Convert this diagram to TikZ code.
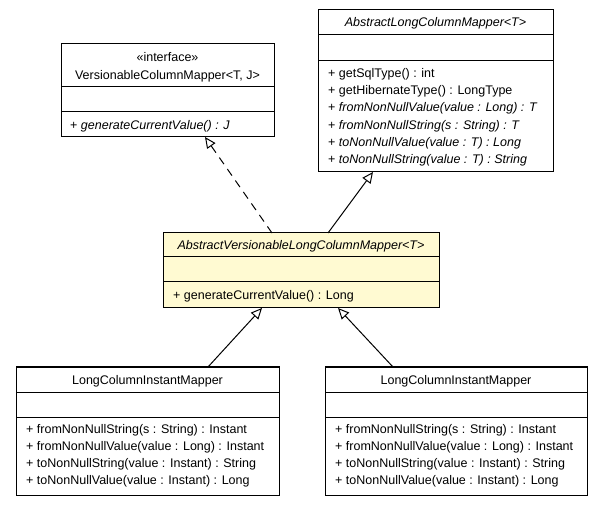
\documentclass[tikz,border=0pt]{standalone}
\usepackage{fontspec}
\setmainfont{Liberation Sans}
\usetikzlibrary{arrows.meta}
\definecolor{abfill}{RGB}{255,250,210}
\begin{document}
\begin{tikzpicture}[x=1pt,y=-1pt,
  box/.style={draw=black, line width=1pt, inner sep=0pt, outer sep=0pt, anchor=north west, fill=white},
  txt/.style={inner sep=0pt, anchor=base west, font=\fontsize{12.5}{15}\selectfont},
  ctxt/.style={inner sep=0pt, anchor=base, font=\fontsize{12.5}{15}\selectfont},
  sep/.style={line width=1pt},
  gen/.style={line width=1pt, -{Triangle[open,length=11pt,width=10pt,fill=white]}},
  impl/.style={gen, dash pattern=on 8pt off 6pt}]
\useasboundingbox (0,0) rectangle (603,505);

% VersionableColumnMapper
\node[box, minimum width=213pt, minimum height=93pt] (v) at (61,44) {};
\draw[sep] (61,87) -- (274,87);
\draw[sep] (61,112) -- (274,112);
\node[ctxt] (vs) at (167.5,61.5) {«interface»};
\node[ctxt] (vt) at (167.5,79.5) {VersionableColumnMapper<T, J>};
\node[txt] (vm1) at (70,129.5) {+ \textit{generateCurrentValue() : J}};

% AbstractLongColumnMapper
\node[box, minimum width=235pt, minimum height=162pt] (al) at (318,10) {};
\draw[sep] (318,35) -- (553,35);
\draw[sep] (318,61) -- (553,61);
\node[ctxt] (alt) at (435.5,26.5) {\textit{AbstractLongColumnMapper<T>}};
\node[txt] (alm1) at (328,77.5) {+ getSqlType() : int};
\node[txt] (alm2) at (328,94.7) {+ getHibernateType() : LongType};
\node[txt] (alm3) at (328,111.9) {+ \textit{fromNonNullValue(value : Long) : T}};
\node[txt] (alm4) at (328,129.1) {+ \textit{fromNonNullString(s : String) : T}};
\node[txt] (alm5) at (328,146.3) {+ \textit{toNonNullValue(value : T) : Long}};
\node[txt] (alm6) at (328,163.5) {+ \textit{toNonNullString(value : T) : String}};

% AbstractVersionableLongColumnMapper
\node[box, fill=abfill, minimum width=276pt, minimum height=75pt] (av) at (163,233) {};
\draw[sep] (163,257) -- (439,257);
\draw[sep] (163,282) -- (439,282);
\node[ctxt] (avt) at (301,249.5) {\textit{AbstractVersionableLongColumnMapper<T>}};
\node[txt] (avm1) at (173,299.5) {+ generateCurrentValue() : Long};

% LongColumnInstantMapper (left)
\node[box, minimum width=263pt, minimum height=128pt] (l1) at (16,367) {};
\draw[sep] (16,392) -- (279,392);
\draw[sep] (16,417) -- (279,417);
\node[ctxt] (l1t) at (147.5,384.5) {LongColumnInstantMapper};
\node[txt] (l1m1) at (26,433.5) {+ fromNonNullString(s : String) : Instant};
\node[txt] (l1m2) at (26,450.5) {+ fromNonNullValue(value : Long) : Instant};
\node[txt] (l1m3) at (26,467.5) {+ toNonNullString(value : Instant) : String};
\node[txt] (l1m4) at (26,484.5) {+ toNonNullValue(value : Instant) : Long};

% LongColumnInstantMapper (right)
\node[box, minimum width=262pt, minimum height=128pt] (l2) at (325,367) {};
\draw[sep] (325,392) -- (587,392);
\draw[sep] (325,417) -- (587,417);
\node[ctxt] (l2t) at (456,384.5) {LongColumnInstantMapper};
\node[txt] (l2m1) at (335,433.5) {+ fromNonNullString(s : String) : Instant};
\node[txt] (l2m2) at (335,450.5) {+ fromNonNullValue(value : Long) : Instant};
\node[txt] (l2m3) at (335,467.5) {+ toNonNullString(value : Instant) : String};
\node[txt] (l2m4) at (335,484.5) {+ toNonNullValue(value : Instant) : Long};

% connectors
\draw[impl] ([xshift=109pt]av.north west) -- ([xshift=144pt]v.south west);
\draw[gen] ([xshift=165pt]av.north west) -- ([xshift=55pt]al.south west);
\draw[gen] ([xshift=192pt]l1.north west) -- ([xshift=99pt]av.south west);
\draw[gen] ([xshift=68pt]l2.north west) -- ([xshift=175pt]av.south west);
\end{tikzpicture}
\end{document}
